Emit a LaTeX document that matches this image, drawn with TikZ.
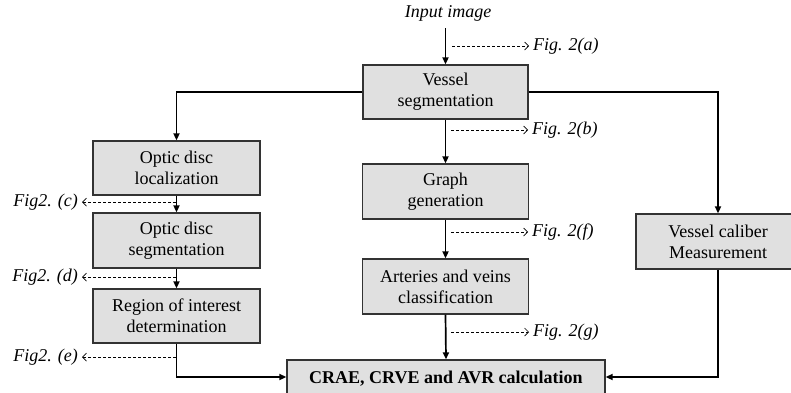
\documentclass[tikz,border=0pt]{standalone}
\usepackage{fontspec}
\setmainfont{Liberation Serif}
\usetikzlibrary{arrows.meta}
\begin{document}
\begin{tikzpicture}[x=1pt,y=-1pt,
  box/.style={draw=black!80,line width=1.3pt,fill=black!12,align=center,inner sep=0pt,
    font=\fontsize{18}{21}\selectfont},
  flow/.style={line width=1.7pt,-{Triangle[length=7pt,width=6pt]}},
  refarrow/.style={line width=0.7pt,dash pattern=on 3pt off 2pt,-{Straight Barb[length=4pt,width=8pt]}},
  figlbl/.style={font=\fontsize{18}{21}\selectfont\itshape,inner sep=0pt}]
\useasboundingbox (0,0) rectangle (791,392);
\begin{scope}
\clip (0,0) rectangle (791,392);
% nodes
\node[figlbl] (in) at (448,13) {Input image};
\node[box,minimum width=165pt,minimum height=54pt] (vs) at (445.5,92) {Vessel\\segmentation};
\node[box,minimum width=167pt,minimum height=54pt] (odl) at (176.5,168) {Optic disc\\localization};
\node[box,minimum width=167pt,minimum height=55pt] (ods) at (176.5,240.5) {Optic disc\\segmentation};
\node[box,minimum width=167pt,minimum height=54pt] (roi) at (176.5,316) {Region of interest\\determination};
\node[box,minimum width=166pt,minimum height=55pt] (gg) at (445.5,191.5) {Graph\\generation};
\node[box,minimum width=166pt,minimum height=55pt] (av) at (445.5,286.5) {Arteries and veins\\classification};
\node[box,minimum width=164pt,minimum height=55pt] (vc) at (718,241.5) {Vessel caliber\\Measurement};
\node[box,minimum width=318pt,minimum height=38pt,font=\fontsize{18}{21}\selectfont\bfseries] (cr) at (446,379) {\raisebox{1pt}{CRAE, CRVE and AVR calculation}};
% coordinates
\coordinate (ins) at (445.5,28);
\coordinate (lt) at (176.5,92);
\coordinate (rt) at (718,92);
\coordinate (lb) at (176.5,377);
\coordinate (rb) at (718,377);
% solid connectors
\draw[flow] (ins) -- (vs.north);
\draw[flow] (vs.west) -- (lt) -- (odl.north);
\draw[flow] (vs.east) -- (rt) -- (vc.north);
\draw[flow] (vs.south) -- (gg.north);
\draw[flow] (gg.south) -- (av.north);
\draw[flow] (av.south) -- (cr.north);
\draw[flow] (odl.south) -- (ods.north);
\draw[flow] (ods.south) -- (roi.north);
\draw[flow] (roi.south) -- (lb) -- (cr.west |- lb);
\draw[flow] (vc.south) -- (rb) -- (cr.east |- rb);
% dashed figure references
\coordinate (da0) at (452,46); \coordinate (da1) at (529,46);
\node[figlbl,anchor=west] (fa) at (533,46) {Fig. 2(a)};
\draw[refarrow] (da0) -- (da1);
\coordinate (db0) at (451,130); \coordinate (db1) at (528,130);
\node[figlbl,anchor=west] (fb) at (532,130) {Fig. 2(b)};
\draw[refarrow] (db0) -- (db1);
\coordinate (df0) at (451,232); \coordinate (df1) at (528,232);
\node[figlbl,anchor=west] (ff) at (532,232) {Fig. 2(f)};
\draw[refarrow] (df0) -- (df1);
\coordinate (dg0) at (451,332); \coordinate (dg1) at (529,332);
\node[figlbl,anchor=west] (fg) at (533,332) {Fig. 2(g)};
\draw[refarrow] (dg0) -- (dg1);
\coordinate (dc0) at (176,202); \coordinate (dc1) at (82,202);
\node[figlbl,anchor=east] (fc) at (78,202) {Fig2. (c)};
\draw[refarrow] (dc0) -- (dc1);
\coordinate (dd0) at (176,277); \coordinate (dd1) at (82,277);
\node[figlbl,anchor=east] (fd) at (78,277) {Fig2. (d)};
\draw[refarrow] (dd0) -- (dd1);
\coordinate (de0) at (176,357); \coordinate (de1) at (82,357);
\node[figlbl,anchor=east] (fe) at (78,357) {Fig2. (e)};
\draw[refarrow] (de0) -- (de1);
\end{scope}
\end{tikzpicture}
\end{document}
